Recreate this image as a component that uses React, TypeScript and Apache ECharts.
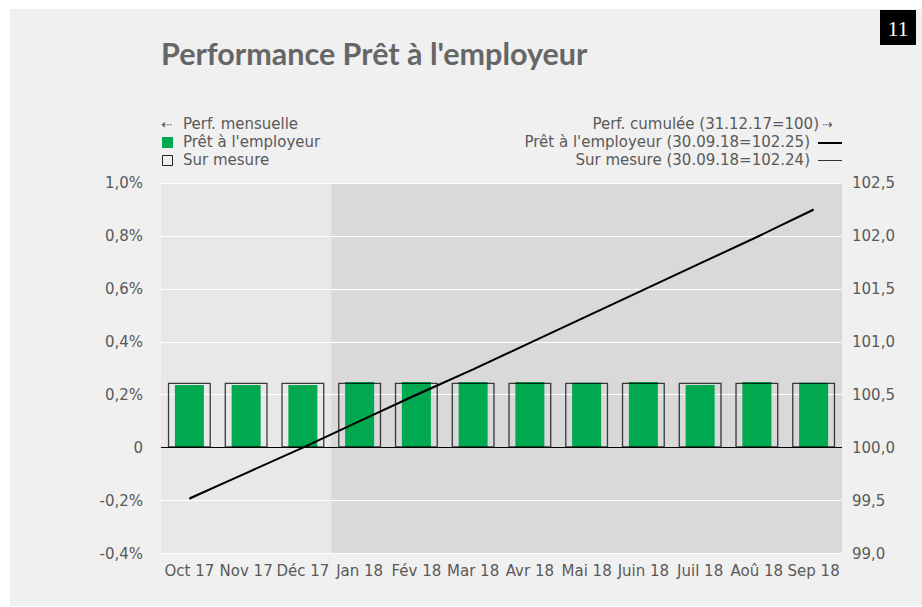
import React, { useEffect, useRef } from "react";
import * as echarts from "echarts";

const categories = ["Oct 17", "Nov 17", "Déc 17", "Jan 18", "Fév 18", "Mar 18", "Avr 18", "Mai 18", "Juin 18", "Juil 18", "Aoû 18", "Sep 18"];
// monthly performance in %
const pretMensuel = [0.237, 0.237, 0.237, 0.248, 0.248, 0.248, 0.248, 0.245, 0.248, 0.237, 0.248, 0.245];
const surMesureMensuel = [0.245, 0.245, 0.245, 0.245, 0.245, 0.245, 0.245, 0.245, 0.245, 0.245, 0.245, 0.245];
// cumulated performance (31.12.17 = 100)
const pretCumul = [99.52, 99.76, 100.0, 100.25, 100.5, 100.74, 100.99, 101.24, 101.49, 101.74, 101.99, 102.25];
const surMesureCumul = [99.51, 99.76, 100.0, 100.25, 100.49, 100.74, 100.99, 101.24, 101.49, 101.74, 101.99, 102.24];
const leftTicks = { min: -0.4, max: 1.0, interval: 0.2 };
const rightTicks = { min: 99, max: 102.5, interval: 0.5 };
const shadeFrom = 3; // Jan 18 onward shaded darker

const TXT = "#595959";
const FONT = "DejaVu Sans";
const FS = 15;
const GREEN = "#00a84f";

export default function App() {
  const ref = useRef<HTMLDivElement>(null);
  useEffect(() => {
    if (!ref.current) return;
    const chart = echarts.init(ref.current, undefined, { renderer: "svg" });
    const areaColors = categories.map((_, i) => (i < shadeFrom ? "#e8e8e8" : "#d9d9d9"));
    const grid = { left: 161, right: 80, top: 183, bottom: 53.5 };
    const fmtComma = (v: number, d: number) => v.toFixed(d).replace(".", ",");
    const font = `${FS}px '${FONT}'`;
    chart.setOption({
      animation: false,
      backgroundColor: "#ffffff",
      textStyle: { fontFamily: FONT },
      grid: { ...grid, show: true, backgroundColor: "#e8e8e8", borderWidth: 0 },
      graphic: [
        { type: "rect", z: -10, shape: { x: 10, y: 9, width: 912, height: 597 }, style: { fill: "#f0f0f0" } },
        { type: "rect", shape: { x: 880, y: 10, width: 36, height: 35 }, style: { fill: "#000" } },
        { type: "text", x: 898, y: 28, style: { text: "11", fill: "#fff", font: "22px 'Liberation Serif'", align: "center", verticalAlign: "middle" } },
        { type: "text", x: 161, y: 53, style: { text: "Performance Prêt à l'employeur", fill: "#666", font: "bold 30.5px Lato", verticalAlign: "middle" } },
        // left legend
        { type: "text", x: 161, y: 124, style: { text: "⇠", fill: TXT, font: `13px '${FONT}'`, verticalAlign: "middle" } },
        { type: "text", x: 183, y: 124, style: { text: "Perf. mensuelle", fill: TXT, font, verticalAlign: "middle" } },
        { type: "rect", shape: { x: 162, y: 137, width: 11, height: 11 }, style: { fill: GREEN } },
        { type: "text", x: 183, y: 142, style: { text: "Prêt à l'employeur", fill: TXT, font, verticalAlign: "middle" } },
        { type: "rect", shape: { x: 162.5, y: 155.5, width: 10, height: 10 }, style: { fill: "none", stroke: "#222", lineWidth: 1 } },
        { type: "text", x: 183, y: 160, style: { text: "Sur mesure", fill: TXT, font, verticalAlign: "middle" } },
        // right legend
        { type: "text", x: 819, y: 124, style: { text: "Perf. cumulée (31.12.17=100)", fill: TXT, font, align: "right", verticalAlign: "middle" } },
        { type: "text", x: 822, y: 124, style: { text: "⇢", fill: TXT, font: `13px '${FONT}'`, verticalAlign: "middle" } },
        { type: "text", x: 810, y: 142, style: { text: "Prêt à l'employeur (30.09.18=102.25)", fill: TXT, font, align: "right", verticalAlign: "middle" } },
        { type: "line", shape: { x1: 818, y1: 143, x2: 842, y2: 143 }, style: { stroke: "#000", lineWidth: 2 } },
        { type: "text", x: 810, y: 160, style: { text: "Sur mesure (30.09.18=102.24)", fill: TXT, font, align: "right", verticalAlign: "middle" } },
        { type: "line", shape: { x1: 818, y1: 160.5, x2: 842, y2: 160.5 }, style: { stroke: "#333", lineWidth: 1 } },
      ],
      xAxis: [
        {
          type: "category",
          data: categories,
          z: 0,
          axisLine: { show: false },
          axisTick: { show: false },
          axisLabel: { interval: 0, color: TXT, fontSize: FS, margin: 10, fontFamily: FONT },
          splitArea: { show: true, areaStyle: { color: areaColors } },
          splitLine: { show: false },
        },
        { type: "category", data: categories, show: false },
      ],
      yAxis: [
        {
          type: "value",
          z: 1,
          ...leftTicks,
          axisLine: { show: false },
          axisTick: { show: false },
          axisLabel: {
            color: TXT,
            fontSize: FS,
            margin: 18,
            fontFamily: FONT,
            formatter: (v: number) => (Math.abs(v) < 1e-9 ? "0" : fmtComma(v, 1) + "%"),
          },
          splitLine: { show: true, lineStyle: { color: "#ffffff", width: 1 } },
        },
        {
          type: "value",
          z: 1,
          ...rightTicks,
          position: "right",
          axisLine: { show: false },
          axisTick: { show: false },
          axisLabel: { color: TXT, fontSize: FS, margin: 10, fontFamily: FONT, formatter: (v: number) => fmtComma(v, 1) },
          splitLine: { show: false },
        },
      ],
      series: [
        {
          name: "Prêt à l'employeur",
          type: "bar",
          xAxisIndex: 0,
          yAxisIndex: 0,
          data: pretMensuel,
          barWidth: 29,
          z: 2,
          itemStyle: { color: GREEN },
          markLine: {
            silent: true,
            symbol: "none",
            label: { show: false },
            lineStyle: { color: "#000", width: 1, type: "solid" },
            data: [{ yAxis: 0 }],
          },
        },
        {
          name: "Sur mesure",
          type: "bar",
          xAxisIndex: 1,
          yAxisIndex: 0,
          data: surMesureMensuel,
          barWidth: 43,
          z: 3,
          itemStyle: { color: "rgba(0,0,0,0)", borderColor: "rgba(0,0,0,0.75)", borderWidth: 1.3 },
        },
        {
          name: "Sur mesure (30.09.18=102.24)",
          type: "line",
          xAxisIndex: 0,
          yAxisIndex: 1,
          data: surMesureCumul,
          symbol: "none",
          z: 4,
          lineStyle: { color: "#333", width: 1 },
        },
        {
          name: "Prêt à l'employeur (30.09.18=102.25)",
          type: "line",
          xAxisIndex: 0,
          yAxisIndex: 1,
          data: pretCumul,
          symbol: "none",
          z: 5,
          lineStyle: { color: "#000", width: 2 },
        },
      ],
    });
    return () => chart.dispose();
  }, []);
  return (
    <div style={{ position: "absolute", left: 0, top: 0, width: 922, height: 607 }}>
      <div ref={ref} style={{ width: 922, height: 607 }} />
    </div>
  );
}
